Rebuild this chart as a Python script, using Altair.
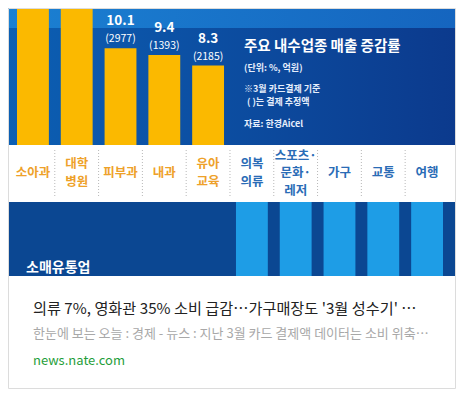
import altair as alt
import pandas as pd

# ---- data ----
cats = ["소아과", "대학병원", "피부과", "내과", "유아교육",
        "의복의류", "스포츠문화레저", "가구", "교통", "여행"]
cat_labels = ["소아과", "대학\n병원", "피부과", "내과", "유아\n교육",
              "의복\n의류", "스포츠·\n문화·\n레저", "가구", "교통", "여행"]
upper_cats = cats[:5]
upper_vals = [20.6, 16.8, 10.1, 9.4, 8.3]          # first two cut off in the picture
upper_amounts = ["", "", "(2977)", "(1393)", "(2185)"]
upper_texts = ["", "", "10.1", "9.4", "8.3"]
lower_cats = cats[5:]
lower_vals = [-7.0, -21.5, -10.2, -12.7, -28.4]    # cut off in the picture

title_main = "주요 내수업종 매출 증감률"
notes = ["(단위: %, 억원)", "※3월 카드결제 기준", "( )는 결제 추정액", "자료: 한경Aicel"]
section_label = "소매유통업"
card_title = "의류 7%, 영화관 35% 소비 급감…가구매장도 '3월 성수기' …"
card_desc = "한눈에 보는 오늘 : 경제 - 뉴스 : 지난 3월 카드 결제액 데이터는 소비 위축…"
card_source = "news.nate.com"

W, H = 448, 381
FONT = "Noto Sans CJK KR"

upper = pd.DataFrame({"cat": upper_cats, "val": upper_vals,
                      "amt": upper_amounts, "txt": upper_texts})
lower = pd.DataFrame({"cat": lower_cats, "val": lower_vals})
labels = pd.DataFrame({"cat": cats, "label": cat_labels,
                       "grp": ["a"] * 5 + ["b"] * 5})
seps = pd.DataFrame({"cat": cats[1:]})
one = pd.DataFrame({"k": [0]})

xscale = alt.Scale(domain=cats, range=[9, 435], paddingInner=0.2727, paddingOuter=0)
xenc = alt.X("cat:N", scale=xscale, axis=None, sort=cats)
yup = alt.Scale(domain=[0, 14.32], range=[137, 0], clamp=True)
ylow = alt.Scale(domain=[-6.17, 0], range=[268, 194], clamp=True)


def rect(x1, x2, y1, y2, fill):
    return alt.Chart(one).mark_rect(fill=fill).encode(
        x=alt.value(x1), x2=alt.value(x2), y=alt.value(y1), y2=alt.value(y2))


def grad(c1, c2):
    return {"gradient": "linear", "x1": 0, "y1": 0, "x2": 1, "y2": 0,
            "stops": [{"offset": 0, "color": c1}, {"offset": 1, "color": c2}]}


bg_main = rect(0, 447, 0, 137, grad("#0c5fb3", "#0c3a8d"))
bg_top = rect(0, 447, 0, 20, grad("#1b80d2", "#1565bf"))
bg_white = rect(0, 447, 137, 194, "#ffffff")
bg_low = rect(0, 447, 194, 268, "#0b4792")

top_cut = alt.Chart(one).mark_text(
    text="46.4", font=FONT, fontSize=15, fontWeight="bold", color="#e8f0ff",
    clip=True, baseline="middle").encode(x=alt.value(414), y=alt.value(-4))

bars_up = alt.Chart(upper).mark_bar(color="#fbb900", clip=True).encode(
    x=xenc, y=alt.Y("val:Q", scale=yup, axis=None))
lab_num = alt.Chart(upper).mark_text(
    font=FONT, fontSize=13.5, fontWeight="bold", color="#ffffff",
    baseline="middle", dy=-27).encode(
    x=xenc, y=alt.Y("val:Q", scale=yup, axis=None), text="txt:N")
lab_amt = alt.Chart(upper).mark_text(
    font=FONT, fontSize=10.5, color="#ffffff", baseline="middle", dy=-9).encode(
    x=xenc, y=alt.Y("val:Q", scale=yup, axis=None), text="amt:N")

bars_low = alt.Chart(lower).mark_bar(color="#1e9de6").encode(
    x=xenc, y=alt.Y("val:Q", scale=ylow, axis=None))

sep_rules = alt.Chart(seps).mark_rule(
    color="#b8b8b8", strokeDash=[1, 2], strokeWidth=1, xOffset=-6).encode(
    x=alt.X("cat:N", scale=xscale, axis=None, sort=cats, bandPosition=0),
    y=alt.value(142), y2=alt.value(190))

label_color = alt.Color("grp:N", scale=alt.Scale(domain=["a", "b"],
                                                 range=["#eea12a", "#2a6cb6"]),
                        legend=None)


def cat_layer(n, ypos, lh):
    return alt.Chart(labels).transform_calculate(
        n="length(split(datum.label, '\\n'))"
    ).transform_filter(f"datum.n == {n}").mark_text(
        font=FONT, fontSize=12.5, fontWeight="bold", lineBreak="\n", lineHeight=lh,
        baseline="middle").encode(
        x=xenc, y=alt.value(ypos), text="label:N", color=label_color)


cat1 = cat_layer(1, 165, 17)
cat2 = cat_layer(2, 156, 18)
cat3 = cat_layer(3, 147.5, 17.5)

t_main = alt.Chart(one).mark_text(
    text=title_main, font=FONT, fontSize=14.5, fontWeight="bold", color="#ffffff",
    align="left", baseline="middle").encode(x=alt.value(236), y=alt.value(39))
note_pos = [(236, 60), (236, 81), (239, 93.5), (236, 116)]
note_layers = [
    alt.Chart(one).mark_text(
        text=t, font=FONT, fontSize=9, fontWeight="bold", color="#e6eefc",
        align="left", baseline="middle").encode(x=alt.value(px), y=alt.value(py))
    for t, (px, py) in zip(notes, note_pos)]

sec = alt.Chart(one).mark_text(
    text=section_label, font=FONT, fontSize=14, fontWeight="bold", color="#ffffff",
    align="left", baseline="middle").encode(x=alt.value(18), y=alt.value(260))

c_title = alt.Chart(one).mark_text(
    text=card_title, font=FONT, fontSize=15.2, color="#222222",
    align="left", baseline="middle").encode(x=alt.value(25), y=alt.value(301))
c_desc = alt.Chart(one).mark_text(
    text=card_desc, font=FONT, fontSize=13, color="#a8a8a8",
    align="left", baseline="middle").encode(x=alt.value(25), y=alt.value(326))
c_src = alt.Chart(one).mark_text(
    text=card_source, font=FONT, fontSize=13, color="#1f9e3a",
    align="left", baseline="middle").encode(x=alt.value(25), y=alt.value(353))

border = alt.Chart(one).mark_rect(fill="transparent", stroke="#dcdcdc",
                                  strokeWidth=1).encode(
    x=alt.value(0.5), x2=alt.value(447.5), y=alt.value(0.5), y2=alt.value(380.5))

chart = alt.layer(
    bg_main, bg_top, top_cut, bg_white, bg_low,
    bars_up, lab_num, lab_amt, bars_low, sep_rules, cat1, cat2, cat3,
    t_main, *note_layers, sec, c_title, c_desc, c_src, border,
).resolve_scale(y="independent", color="independent").properties(
    width=W, height=H, padding=0, autosize=alt.AutoSizeParams(type="none"),
    background="#ffffff",
).configure_view(stroke=None)

chart.save("out.html", embed_options={"renderer": "svg", "actions": False})
